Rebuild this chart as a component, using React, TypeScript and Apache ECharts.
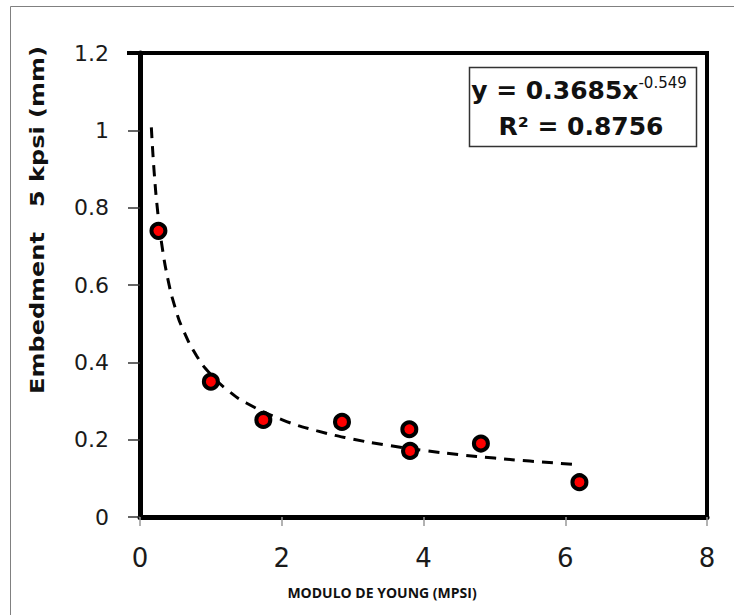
import React, { useEffect, useRef } from "react";
import * as echarts from "echarts";

// Measured points: Young's modulus (Mpsi) vs embedment at 5 kpsi (mm)
const modulus = [0.26, 1.0, 1.74, 2.85, 3.8, 3.81, 4.81, 6.2];
const embedment = [0.74, 0.35, 0.251, 0.246, 0.227, 0.171, 0.19, 0.09];

// Power trend line shown in the chart: y = A * x^B
const TREND_A = 0.3685;
const TREND_B = -0.549;
const trendX = [0.16, 0.2, 0.25, 0.3, 0.4, 0.5, 0.6, 0.8, 1, 1.25, 1.5, 2, 2.5, 3, 3.5, 4, 4.5, 5, 5.5, 6.2];

const xTicks = { min: 0, max: 8, interval: 2 };
const yTicks = { min: 0, max: 1.2, interval: 0.2 };

const equationText = "y = 0.3685x";
const exponentText = "-0.549";
const r2Text = "R² = 0.8756";
const yName = "Embedment   5 kpsi (mm)";
const xName = "MODULO DE YOUNG (MPSI)";

export default function App() {
  const ref = useRef<HTMLDivElement>(null);
  useEffect(() => {
    if (!ref.current) return;
    const chart = echarts.init(ref.current, null, { renderer: "svg" });
    const scatterData = modulus.map((x, i) => [x, embedment[i]]);
    const trendData = trendX.map((x) => [x, TREND_A * Math.pow(x, TREND_B)]);
    const font = "'DejaVu Sans', sans-serif";
    chart.setOption({
      animation: false,
      backgroundColor: "#fff",
      grid: {
        left: 140,
        right: 27,
        top: 53,
        bottom: 98,
        show: true,
        borderColor: "#000",
        borderWidth: 4,
        backgroundColor: "transparent",
      },
      xAxis: {
        type: "value",
        ...xTicks,
        splitLine: { show: false },
        axisLine: { show: true, lineStyle: { color: "#000", width: 5 } },
        axisTick: { show: true, length: 9, lineStyle: { color: "#999", width: 1.5 } },
        axisLabel: { fontFamily: font, fontSize: 26, color: "#1a1a1a", margin: 28 },
      },
      yAxis: {
        type: "value",
        ...yTicks,
        splitLine: { show: false },
        axisLine: { show: true, lineStyle: { color: "#000", width: 5 } },
        axisTick: { show: true, length: 12, lineStyle: { color: "#333", width: 1.5 } },
        axisLabel: { fontFamily: font, fontSize: 22, color: "#1a1a1a", margin: 31 },
      },
      series: [
        {
          type: "line",
          data: trendData,
          showSymbol: false,
          symbol: "none",
          smooth: true,
          lineStyle: { color: "#000", width: 3, type: [11, 8] },
          z: 2,
        },
        {
          type: "scatter",
          data: scatterData,
          symbol: "circle",
          symbolSize: 14,
          itemStyle: { color: "#ff0000", borderColor: "#000", borderWidth: 4, opacity: 1 },
          z: 3,
        },
      ],
      graphic: [
        {
          type: "rect",
          z: -10,
          shape: { x: 10.5, y: 6.5, width: 760, height: 660 },
          style: { fill: "none", stroke: "#808080", lineWidth: 1 },
        },
        {
          type: "line",
          z: 5,
          shape: { x1: 127, y1: 53, x2: 142, y2: 53 },
          style: { stroke: "#000", lineWidth: 4 },
        },
        {
          type: "rect",
          z: 10,
          shape: { x: 469.5, y: 67.5, width: 227, height: 79 },
          style: { fill: "#fff", stroke: "#333", lineWidth: 1.5 },
        },
        {
          type: "text",
          z: 11,
          x: 579,
          y: 89,
          style: {
            text: "{a|" + equationText + "}{s|" + exponentText + "}",
            align: "center",
            verticalAlign: "middle",
            rich: {
              a: { fontFamily: font, fontSize: 25, fontWeight: "bold", fill: "#111", lineHeight: 28, verticalAlign: "bottom" },
              s: { fontFamily: font, fontSize: 15, fill: "#111", lineHeight: 18, verticalAlign: "top" },
            },
          },
        },
        {
          type: "text",
          z: 11,
          x: 581,
          y: 126,
          style: {
            text: r2Text,
            align: "center",
            verticalAlign: "middle",
            fontFamily: font,
            fontSize: 25,
            fontWeight: "bold",
            fill: "#111",
          },
        },
        {
          type: "text",
          x: 37,
          y: 220,
          rotation: Math.PI / 2,
          scaleX: 1.2,
          scaleY: 1,
          style: {
            text: yName,
            align: "center",
            verticalAlign: "middle",
            fontFamily: font,
            fontSize: 20,
            fontWeight: "bold",
            fill: "#111",
          },
        },
        {
          type: "text",
          x: 382,
          y: 592,
          style: {
            text: xName,
            align: "center",
            verticalAlign: "middle",
            fontFamily: "'Open Sans', sans-serif",
            fontSize: 14,
            fontWeight: "bold",
            fill: "#111",
          },
        },
      ],
    });
    return () => chart.dispose();
  }, []);
  return (
    <div
      ref={ref}
      style={{ position: "fixed", left: 0, top: 0, width: 734, height: 615, background: "#fff" }}
    />
  );
}
